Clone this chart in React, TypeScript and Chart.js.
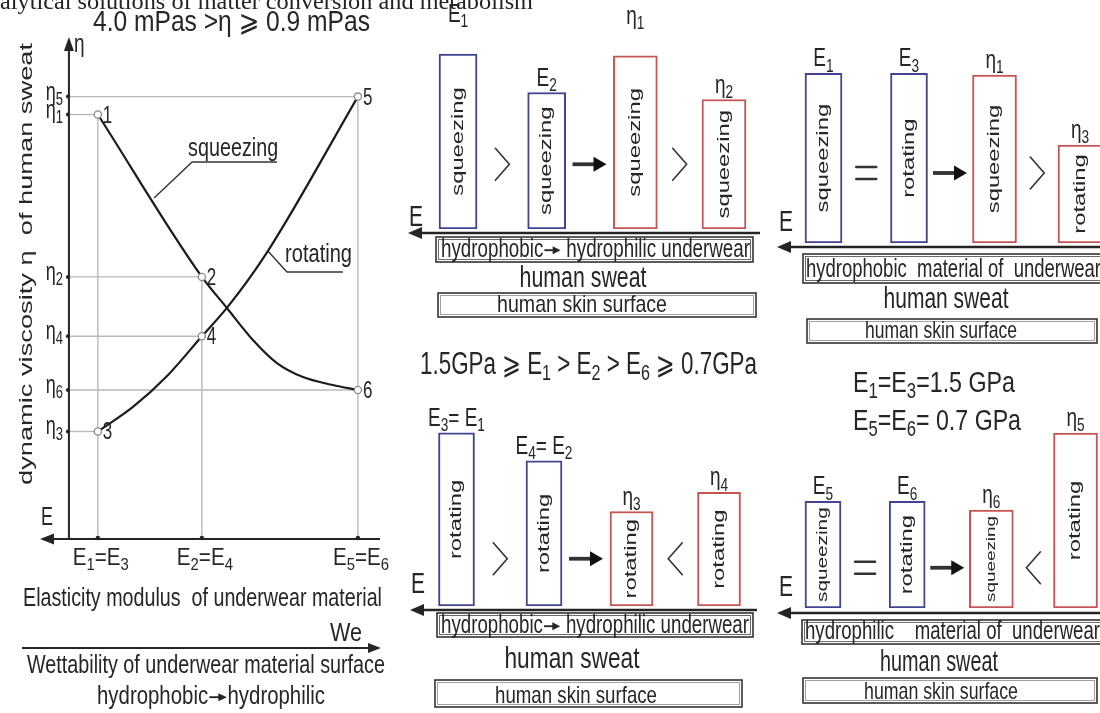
import React, { useEffect, useRef } from 'react';
import { Chart, registerables } from 'chart.js';

Chart.register(...registerables);

// ================= DATA =================
// Left chart: elasticity modulus E (GPa) of underwear material vs dynamic viscosity η (mPa·s) of sweat
const E_TICK_VALUES = [1.5, 1.18, 0.7];
const E_TICK_LABELS = ['E_1=E_3', 'E_2=E_4', 'E_5=E_6'];
const ETA_TICK_VALUES = [3.95, 3.79, 2.34, 1.81, 1.33, 0.96];
const ETA_TICK_LABELS = ['η_5', 'η_1', 'η_2', 'η_4', 'η_6', 'η_3'];

// curve traces; named points carry a mark label
const SQUEEZING_E = [1.5, 1.18, 1.103, 1.023, 0.949, 0.869, 0.777, 0.7];
const SQUEEZING_ETA = [3.79, 2.34, 2.063, 1.777, 1.571, 1.446, 1.375, 1.33];
const SQUEEZING_MARKS = ['1', '2', '', '', '', '', '', '6'];

const ROTATING_E = [1.5, 1.392, 1.287, 1.18, 1.103, 0.977, 0.7];
const ROTATING_ETA = [0.96, 1.179, 1.455, 1.81, 2.063, 2.571, 3.95];
const ROTATING_MARKS = ['3', '', '', '4', '', '', '5'];

const HEADER = 'analytical solutions of matter conversion and metabolism';
const VISCOSITY_RANGE = '4.0 mPas >η ⩾ 0.9 mPas';
const Y_TITLE = 'dynamic viscosity η  of human sweat';
const X_TITLE = 'Elasticity modulus  of underwear material';
const WE_LABEL = 'We';
const WE_TITLE = 'Wettability of underwear material surface';
const WE_DIRECTION = 'hydrophobic→hydrophilic';

// Right panels: bar heights (relative), blue = E of material, red = η of sweat
const PANEL_A_TOP = ['E_1', 'E_2', 'η_1', 'η_2'];
const PANEL_A_MODES = ['squeezing', 'squeezing', 'squeezing', 'squeezing'];
const PANEL_A_VALUES = [1.0, 0.78, 0.99, 0.74];
const PANEL_A_RELATIONS = ['>', '→', '>'];

const PANEL_B_TOP = ['E_1', 'E_3', 'η_1', 'η_3'];
const PANEL_B_MODES = ['squeezing', 'rotating', 'squeezing', 'rotating'];
const PANEL_B_VALUES = [0.97, 0.97, 0.96, 0.56];
const PANEL_B_RELATIONS = ['=', '→', '>'];

const PANEL_C_TOP = ['E_3= E_1', 'E_4= E_2', 'η_3', 'η_4'];
const PANEL_C_MODES = ['rotating', 'rotating', 'rotating', 'rotating'];
const PANEL_C_VALUES = [0.99, 0.83, 0.54, 0.65];
const PANEL_C_RELATIONS = ['>', '→', '<'];

const PANEL_D_TOP = ['E_5', 'E_6', 'η_6', 'η_5'];
const PANEL_D_MODES = ['squeezing', 'rotating', 'squeezing', 'rotating'];
const PANEL_D_VALUES = [0.61, 0.61, 0.56, 1.0];
const PANEL_D_RELATIONS = ['=', '→', '<'];

const MATERIAL_A = 'hydrophobic→ hydrophilic underwear';
const MATERIAL_B = 'hydrophobic  material of  underwear';
const MATERIAL_C = 'hydrophobic→ hydrophilic underwear';
const MATERIAL_D = 'hydrophilic    material of  underwear';
const SWEAT_LABEL = 'human sweat';
const SKIN_LABEL = 'human skin surface';
const E_RANGE_NOTE = '1.5GPa ⩾ E_1 > E_2 > E_6 ⩾ 0.7GPa';
const E_EQUAL_NOTES = ['E_1=E_3=1.5 GPa', 'E_5=E_6= 0.7 GPa'];

// ================= STYLE / LAYOUT =================
const CW = 1140;
const CH = 713;
const SANS = '"Liberation Sans", Arial, Helvetica, "DejaVu Sans", sans-serif';
const SERIF = '"Liberation Serif", "Times New Roman", serif';
const STRETCH = 1.4;
const SUB_SCALE = 0.72;
const TEXT = '#262626';
const AXIS = '#242424';
const GUIDE = '#b8b8b8';
const CURVE = '#1c1c1c';
const BLUE = '#424492';
const RED = '#c65656';
const Y_AXIS_E = 1.589;

type Seg = { t: string; sub: boolean; arrow: boolean };
function parseRich(s: string): Seg[] {
  const out: Seg[] = [];
  let buf = '';
  const flush = () => {
    if (buf) {
      out.push({ t: buf, sub: false, arrow: false });
      buf = '';
    }
  };
  for (let i = 0; i < s.length; i++) {
    const c = s[i];
    if (c === '_' && i + 1 < s.length) {
      flush();
      out.push({ t: s[i + 1], sub: true, arrow: false });
      i++;
    } else if (c === '→') {
      flush();
      out.push({ t: '', sub: false, arrow: true });
    } else buf += c;
  }
  flush();
  return out;
}

function drawRich(
  ctx: CanvasRenderingContext2D,
  text: string,
  x: number,
  baseline: number,
  size: number,
  o: { align?: 'left' | 'center' | 'right'; width?: number; family?: string; sy?: number; color?: string } = {}
) {
  const family = o.family ?? SANS;
  const segs = parseRich(text);
  const widths = segs.map((s) => {
    if (s.arrow) return size * 0.95;
    ctx.font = `${s.sub ? size * SUB_SCALE : size}px ${family}`;
    return ctx.measureText(s.t).width;
  });
  const total = widths.reduce((a, b) => a + b, 0) || 1;
  const sx = o.width ? o.width / total : 1;
  const drawnW = total * sx;
  let x0 = x;
  if (o.align === 'center') x0 = x - drawnW / 2;
  else if (o.align === 'right') x0 = x - drawnW;
  ctx.save();
  ctx.translate(x0, baseline);
  ctx.scale(sx, o.sy ?? STRETCH);
  ctx.fillStyle = o.color ?? TEXT;
  ctx.strokeStyle = o.color ?? TEXT;
  ctx.textAlign = 'left';
  ctx.textBaseline = 'alphabetic';
  let cx = 0;
  segs.forEach((s, i) => {
    if (s.arrow) {
      const ym = -size * 0.27;
      ctx.lineWidth = size * 0.075;
      ctx.beginPath();
      ctx.moveTo(cx + size * 0.06, ym);
      ctx.lineTo(cx + size * 0.6, ym);
      ctx.stroke();
      ctx.beginPath();
      ctx.moveTo(cx + size * 0.5, ym - size * 0.16);
      ctx.lineTo(cx + size * 0.92, ym);
      ctx.lineTo(cx + size * 0.5, ym + size * 0.16);
      ctx.closePath();
      ctx.fill();
    } else {
      ctx.font = `${s.sub ? size * SUB_SCALE : size}px ${family}`;
      ctx.fillText(s.t, cx, s.sub ? size * 0.2 : 0);
    }
    cx += widths[i];
  });
  ctx.restore();
}

function drawVertical(
  ctx: CanvasRenderingContext2D,
  text: string,
  baseX: number,
  cy: number,
  size: number,
  length?: number
) {
  ctx.save();
  ctx.font = `${size}px ${SANS}`;
  const w = ctx.measureText(text).width;
  const sx = length ? length / w : STRETCH;
  ctx.translate(baseX, cy);
  ctx.rotate(-Math.PI / 2);
  ctx.scale(sx, 1);
  ctx.fillStyle = TEXT;
  ctx.textAlign = 'center';
  ctx.textBaseline = 'alphabetic';
  ctx.fillText(text, 0, 0);
  ctx.restore();
}

function arrowHead(ctx: CanvasRenderingContext2D, tx: number, ty: number, dir: string, len: number, half: number) {
  ctx.beginPath();
  if (dir === 'left') {
    ctx.moveTo(tx, ty);
    ctx.lineTo(tx + len, ty - half);
    ctx.lineTo(tx + len, ty + half);
  } else if (dir === 'right') {
    ctx.moveTo(tx, ty);
    ctx.lineTo(tx - len, ty - half);
    ctx.lineTo(tx - len, ty + half);
  } else {
    ctx.moveTo(tx, ty);
    ctx.lineTo(tx - half, ty + len);
    ctx.lineTo(tx + half, ty + len);
  }
  ctx.closePath();
  ctx.fill();
}

function line(ctx: CanvasRenderingContext2D, x1: number, y1: number, x2: number, y2: number) {
  ctx.beginPath();
  ctx.moveTo(x1, y1);
  ctx.lineTo(x2, y2);
  ctx.stroke();
}

// annotation leader geometry in data units (E, η)
const NOTE_LAYOUT = [
  { text: 'squeezing', at: [1.327, 3.045], elbow: [1.21, 3.366], end: 0.949, dx: -4, dy: -6, w: 90 },
  { text: 'rotating', at: [0.977, 2.571], elbow: [0.918, 2.384], end: 0.746, dx: -2, dy: -10, w: 67 },
];

function namedPoints() {
  const pts: { e: number; eta: number; m: string }[] = [];
  SQUEEZING_E.forEach((e, i) => SQUEEZING_MARKS[i] && pts.push({ e, eta: SQUEEZING_ETA[i], m: SQUEEZING_MARKS[i] }));
  ROTATING_E.forEach((e, i) => ROTATING_MARKS[i] && pts.push({ e, eta: ROTATING_ETA[i], m: ROTATING_MARKS[i] }));
  return pts;
}

const leftPlugin = {
  id: 'leftDecor',
  beforeDatasetsDraw(chart: any) {
    const { ctx, chartArea: a } = chart;
    const px = (v: number) => chart.scales.x.getPixelForValue(v);
    const py = (v: number) => chart.scales.y.getPixelForValue(v);
    const ax = px(Y_AXIS_E);
    const ay = py(0);
    const pts = namedPoints();
    ctx.save();
    ctx.strokeStyle = GUIDE;
    ctx.lineWidth = 1.4;
    pts.forEach((p) => line(ctx, ax, py(p.eta), px(p.e), py(p.eta)));
    E_TICK_VALUES.forEach((e) => {
      const top = Math.min(...pts.filter((p) => p.e === e).map((p) => py(p.eta)));
      line(ctx, px(e), top, px(e), ay);
    });
    ctx.strokeStyle = AXIS;
    ctx.fillStyle = AXIS;
    ctx.lineWidth = 2;
    line(ctx, ax, ay, ax, a.top + 10);
    arrowHead(ctx, ax, a.top, 'up', 14, 5);
    line(ctx, a.right, ay, a.left + 10, ay);
    arrowHead(ctx, a.left, ay, 'left', 14, 5.5);
    ETA_TICK_VALUES.forEach((v) => {
      ctx.beginPath();
      ctx.arc(ax - 1, py(v), 2, 0, Math.PI * 2);
      ctx.fill();
    });
    E_TICK_VALUES.forEach((v) => {
      ctx.beginPath();
      ctx.arc(px(v), ay - 1, 2.2, 0, Math.PI * 2);
      ctx.fill();
    });
    // annotation leaders
    ctx.lineWidth = 1.4;
    ctx.strokeStyle = '#333';
    NOTE_LAYOUT.forEach((n) => {
      ctx.beginPath();
      ctx.moveTo(px(n.at[0]), py(n.at[1]));
      ctx.lineTo(px(n.elbow[0]), py(n.elbow[1]));
      ctx.lineTo(px(n.end), py(n.elbow[1]));
      ctx.stroke();
    });
    ctx.restore();
  },
  afterDatasetsDraw(chart: any) {
    const { ctx, chartArea: a } = chart;
    const px = (v: number) => chart.scales.x.getPixelForValue(v);
    const py = (v: number) => chart.scales.y.getPixelForValue(v);
    const ax = px(Y_AXIS_E);
    const ay = py(0);

    // cut-off header line of the page
    ctx.font = `20px ${SERIF}`;
    const full = ctx.measureText(HEADER).width;
    const pre = ctx.measureText('an').width;
    const hsx = 533 / (full - pre);
    drawRich(ctx, HEADER, -pre * hsx, 9, 20, { family: SERIF, width: full * hsx, sy: 1.2, color: '#222' });

    drawRich(ctx, VISCOSITY_RANGE, 93, 31, 21, { width: 277 });
    drawRich(ctx, 'η', ax + 5, a.top + 15, 19);
    ETA_TICK_VALUES.forEach((v, i) => drawRich(ctx, ETA_TICK_LABELS[i], ax - 6, py(v) + 3, 18, { align: 'right' }));
    E_TICK_VALUES.forEach((v, i) => drawRich(ctx, E_TICK_LABELS[i], px(v) + 3, ay + 26, 17, { align: 'center', width: 56 }));
    drawRich(ctx, 'E', a.left + 7, ay - 14, 18, { align: 'center' });

    namedPoints().forEach((p) => drawRich(ctx, p.m, px(p.e) + 5, py(p.eta) + 8, 17));

    NOTE_LAYOUT.forEach((n) => {
      drawRich(ctx, n.text, px(n.elbow[0]) + n.dx, py(n.elbow[1]) + n.dy, 19, { width: n.w });
    });

    drawVertical(ctx, Y_TITLE, 32, 264, 19, 442);

    drawRich(ctx, X_TITLE, 23, 606, 19, { width: 359 });
    drawRich(ctx, WE_LABEL, 330, 641, 19, { width: 32 });
    ctx.save();
    ctx.strokeStyle = AXIS;
    ctx.fillStyle = AXIS;
    ctx.lineWidth = 2;
    line(ctx, 22, 648, 370, 648);
    arrowHead(ctx, 381, 648, 'right', 13, 5);
    ctx.restore();
    drawRich(ctx, WE_TITLE, 27, 673, 19, { width: 358 });
    drawRich(ctx, WE_DIRECTION, 97, 704, 18, { width: 228 });
  },
};

function makeLeftConfig() {
  const toPts = (es: number[], etas: number[]) => es.map((e, i) => ({ x: e, y: etas[i] }));
  const radius = (marks: string[]) => marks.map((m) => (m ? 3.6 : 0));
  const common = {
    showLine: true,
    cubicInterpolationMode: 'monotone',
    borderColor: CURVE,
    borderWidth: 2.2,
    pointBackgroundColor: '#ffffff',
    pointBorderColor: '#8a8a8a',
    pointBorderWidth: 1.3,
    fill: false,
  };
  return {
    type: 'scatter',
    data: {
      datasets: [
        { label: 'squeezing', data: toPts(SQUEEZING_E, SQUEEZING_ETA), pointRadius: radius(SQUEEZING_MARKS), ...common },
        { label: 'rotating', data: toPts(ROTATING_E, ROTATING_ETA), pointRadius: radius(ROTATING_MARKS), ...common },
      ],
    },
    options: {
      responsive: false,
      animation: false,
      devicePixelRatio: 1,
      events: [],
      layout: { padding: { left: 40, top: 37, right: CW - 380, bottom: CH - 539 } },
      plugins: { legend: { display: false }, tooltip: { enabled: false } },
      scales: {
        x: { type: 'linear', reverse: true, min: 0.632, max: 1.678, display: false },
        y: { type: 'linear', min: 0, max: 4.482, display: false },
      },
    },
    plugins: [leftPlugin],
  };
}

// ---------- panels ----------
type Panel = {
  top: string[];
  modes: string[];
  values: number[];
  relations: string[];
  material: string;
  area: number[];
  axis: { y: number; x0: number; x1: number; eX: number; eBase: number };
  symbolAt: number;
  lift: number[];
  widths: number[];
  matBox: number[];
  matText: number[];
  sweat: number[];
  skinBox: number[];
  skinText: number[];
  notes: { text: string; x0: number; w: number; base: number; size: number }[];
};

const PANELS: Panel[] = [
  {
    top: PANEL_A_TOP, modes: PANEL_A_MODES, values: PANEL_A_VALUES, relations: PANEL_A_RELATIONS, material: MATERIAL_A,
    area: [413.7, 36.5, 768.3, 229],
    axis: { y: 233, x0: 408, x1: 760, eX: 416, eBase: 226 },
    symbolAt: 0.37, lift: [25, 0, 25, 0], widths: [38, 44],
    matBox: [436, 237, 753, 262], matText: [441, 309, 257],
    sweat: [583, 127, 287],
    skinBox: [438, 293, 756, 317], skinText: [582, 170, 312],
    notes: [],
  },
  {
    top: PANEL_B_TOP, modes: PANEL_B_MODES, values: PANEL_B_VALUES, relations: PANEL_B_RELATIONS, material: MATERIAL_B,
    area: [780.75, 50.5, 1122.75, 243],
    axis: { y: 247, x0: 777, x1: 1140, eX: 786, eBase: 231 },
    symbolAt: 0.4, lift: [0, 0, 0, 0], widths: [37, 44],
    matBox: [803, 254, 1110, 283], matText: [806, 295, 277],
    sweat: [946, 125, 308],
    skinBox: [807, 319, 1097, 343], skinText: [941, 152, 338],
    notes: [],
  },
  {
    top: PANEL_C_TOP, modes: PANEL_C_MODES, values: PANEL_C_VALUES, relations: PANEL_C_RELATIONS, material: MATERIAL_C,
    area: [412.75, 413.5, 762.75, 606],
    axis: { y: 610, x0: 410, x1: 757, eX: 418, eBase: 593 },
    symbolAt: 0.27, lift: [0, 0, 0, 0], widths: [36, 43],
    matBox: [437, 613, 753, 637], matText: [441, 308, 633],
    sweat: [572, 135, 668],
    skinBox: [435, 680, 742, 707], skinText: [576, 162, 703],
    notes: [{ text: E_RANGE_NOTE, x0: 420, w: 337, base: 374, size: 22 }],
  },
  {
    top: PANEL_D_TOP, modes: PANEL_D_MODES, values: PANEL_D_VALUES, relations: PANEL_D_RELATIONS, material: MATERIAL_D,
    area: [780.9, 415.5, 1117.6, 608],
    axis: { y: 613, x0: 777, x1: 1140, eX: 786, eBase: 596 },
    symbolAt: 0.23, lift: [0, 0, 0, 0], widths: [36, 44],
    matBox: [802, 620, 1110, 644], matText: [805, 295, 639],
    sweat: [939, 118, 671],
    skinBox: [803, 678, 1097, 703], skinText: [941, 154, 699],
    notes: [
      { text: E_EQUAL_NOTES[0], x0: 853, w: 162, base: 392, size: 21 },
      { text: E_EQUAL_NOTES[1], x0: 853, w: 168, base: 430, size: 21 },
    ],
  },
];

function drawRelation(ctx: CanvasRenderingContext2D, sym: string, x: number, y: number) {
  ctx.save();
  ctx.strokeStyle = '#333';
  ctx.fillStyle = '#111';
  ctx.lineCap = 'round';
  if (sym === '>' || sym === '<') {
    const d = sym === '>' ? 1 : -1;
    ctx.lineWidth = 1.6;
    ctx.beginPath();
    ctx.moveTo(x - d * 7, y - 16);
    ctx.lineTo(x + d * 7, y);
    ctx.lineTo(x - d * 7, y + 16);
    ctx.stroke();
  } else if (sym === '=') {
    ctx.lineWidth = 2.5;
    line(ctx, x - 10, y - 6, x + 10, y - 6);
    line(ctx, x - 10, y + 6, x + 10, y + 6);
  } else {
    ctx.lineWidth = 3.8;
    ctx.lineCap = 'butt';
    line(ctx, x - 17, y, x + 6, y);
    arrowHead(ctx, x + 17, y, 'right', 13, 7.5);
  }
  ctx.restore();
}

function frameBox(ctx: CanvasRenderingContext2D, b: number[], double: boolean) {
  ctx.save();
  ctx.strokeStyle = '#333';
  ctx.lineWidth = 1.6;
  ctx.strokeRect(b[0], b[1], b[2] - b[0], b[3] - b[1]);
  ctx.strokeStyle = double ? '#6a6a6a' : '#a0a0a0';
  ctx.lineWidth = 1;
  ctx.strokeRect(b[0] + 2.5, b[1] + 2.5, b[2] - b[0] - 5, b[3] - b[1] - 5);
  ctx.restore();
}

function makePanelPlugin(p: Panel) {
  return {
    id: 'panelDecor',
    beforeDatasetsDraw(chart: any) {
      const ctx = chart.ctx as CanvasRenderingContext2D;
      ctx.save();
      ctx.strokeStyle = AXIS;
      ctx.fillStyle = AXIS;
      ctx.lineWidth = 2.5;
      line(ctx, p.axis.x1, p.axis.y, p.axis.x0 + 10, p.axis.y);
      arrowHead(ctx, p.axis.x0, p.axis.y, 'left', 14, 6);
      ctx.restore();
      drawRich(ctx, 'E', p.axis.eX, p.axis.eBase, 21, { align: 'center' });
      frameBox(ctx, p.matBox, true);
      drawRich(ctx, p.material, p.matText[0], p.matText[2], 18, { width: p.matText[1] });
      drawRich(ctx, SWEAT_LABEL, p.sweat[0], p.sweat[2], 21, { align: 'center', width: p.sweat[1] });
      frameBox(ctx, p.skinBox, false);
      drawRich(ctx, SKIN_LABEL, p.skinText[0], p.skinText[2], 17, { align: 'center', width: p.skinText[1] });
      p.notes.forEach((n) => drawRich(ctx, n.text, n.x0, n.base, n.size, { width: n.w }));
    },
    afterDatasetsDraw(chart: any) {
      const ctx = chart.ctx as CanvasRenderingContext2D;
      const metas = [chart.getDatasetMeta(0), chart.getDatasetMeta(1)];
      const bars = p.values.map((_, i) => {
        const el: any = (i < 2 ? metas[0] : metas[1]).data[i];
        return { x: el.x, y: el.y, base: el.base, width: el.width };
      });
      bars.forEach((b, i) => {
        const h = b.base - b.y;
        let size = 17;
        ctx.font = `${size}px ${SANS}`;
        const len = ctx.measureText(p.modes[i]).width * STRETCH;
        if (len > h - 12) {
          size = (size * (h - 12)) / len;
        }
        drawVertical(ctx, p.modes[i], b.x + size * 0.27, (b.y + b.base) / 2, size);
        drawRich(ctx, p.top[i], b.x, b.y - 7 - p.lift[i], 19, { align: 'center' });
      });
      const sy = chart.scales.y.getPixelForValue(p.symbolAt);
      p.relations.forEach((r, i) => {
        const l = bars[i].x + bars[i].width / 2;
        const rr = bars[i + 1].x - bars[i + 1].width / 2;
        drawRelation(ctx, r, (l + rr) / 2, sy);
      });
    },
  };
}

function makePanelConfig(p: Panel) {
  const blue = p.values.map((v, i) => (i < 2 ? v : null));
  const red = p.values.map((v, i) => (i >= 2 ? v : null));
  const [l, t, r, b] = p.area;
  const common = { backgroundColor: '#ffffff', borderWidth: 2, borderSkipped: false, grouped: false };
  return {
    type: 'bar',
    data: {
      labels: p.top,
      datasets: [
        { label: 'E', data: blue, borderColor: BLUE, barThickness: p.widths[0], ...common },
        { label: 'η', data: red, borderColor: RED, barThickness: p.widths[1], ...common },
      ],
    },
    options: {
      responsive: false,
      animation: false,
      devicePixelRatio: 1,
      events: [],
      layout: { padding: { left: l, top: t, right: CW - r, bottom: CH - b } },
      plugins: { legend: { display: false }, tooltip: { enabled: false } },
      scales: {
        x: { type: 'category', offset: true, display: false },
        y: { type: 'linear', min: 0, max: 1.1, display: false },
      },
    },
    plugins: [makePanelPlugin(p)],
  };
}

const MAKERS = [makeLeftConfig, ...PANELS.map((p) => () => makePanelConfig(p))];

function ChartLayer({ make }: { make: () => any }) {
  const ref = useRef<HTMLCanvasElement | null>(null);
  useEffect(() => {
    if (!ref.current) return;
    const chart = new Chart(ref.current, make());
    return () => chart.destroy();
  }, [make]);
  return (
    <canvas
      ref={ref}
      width={CW}
      height={CH}
      style={{ position: 'absolute', left: 0, top: 0, width: CW, height: CH }}
    />
  );
}

export default function App() {
  return (
    <div
      style={{
        position: 'fixed',
        left: 0,
        top: 0,
        width: 1100,
        height: 713,
        overflow: 'hidden',
        background: '#ffffff',
      }}
    >
      {MAKERS.map((m, i) => (
        <ChartLayer key={i} make={m} />
      ))}
    </div>
  );
}
